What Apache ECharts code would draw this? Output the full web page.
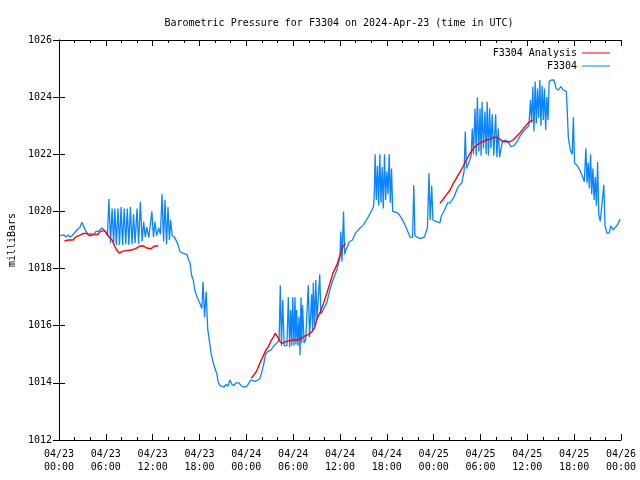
<!DOCTYPE html>
<html>
<head>
<meta charset="utf-8">
<script src="https://cdn.jsdelivr.net/npm/echarts@6/dist/echarts.min.js"></script>
<style>html,body{margin:0;padding:0;background:#fff}#c{width:640px;height:480px}</style>
</head>
<body>
<div id="c"></div>
<script>
// hours since 2024-04-23 00:00 UTC
const xTickLabels = ['04/23\n00:00','04/23\n06:00','04/23\n12:00','04/23\n18:00','04/24\n00:00','04/24\n06:00','04/24\n12:00','04/24\n18:00','04/25\n00:00','04/25\n06:00','04/25\n12:00','04/25\n18:00','04/26\n00:00'];
const seriesNames = ['F3304 Analysis', 'F3304'];

const analysisSeg1 = [[0.68,1018.96],[1.2,1019.0],[1.8,1019.0],[2.1,1019.1],[2.7,1019.17],[3.1,1019.23],[3.6,1019.23],[3.9,1019.15],[4.4,1019.18],[5.0,1019.2],[5.3,1019.3],[5.8,1019.33],[6.1,1019.25],[6.4,1019.1],[6.8,1019.0],[7.1,1018.8],[7.4,1018.65],[7.7,1018.54],[8.1,1018.6],[8.6,1018.63],[9.3,1018.65],[9.8,1018.7],[10.3,1018.78],[10.8,1018.8],[11.2,1018.72],[11.8,1018.7],[12.2,1018.78],[12.7,1018.8]];
const analysisSeg2 = [[24.65,1014.16],[25.3,1014.4],[25.75,1014.7],[26.1,1014.9],[26.4,1015.09],[26.8,1015.26],[27.1,1015.44],[27.5,1015.62],[27.7,1015.73],[28.0,1015.62],[28.3,1015.45],[28.6,1015.38],[29.0,1015.44],[29.5,1015.47],[30.0,1015.5],[30.6,1015.5],[31.0,1015.55],[31.5,1015.64],[31.9,1015.68],[32.4,1015.79],[32.8,1015.96],[33.0,1016.2],[33.4,1016.44],[33.9,1016.79],[34.3,1017.13],[34.7,1017.48],[35.1,1017.84],[35.6,1018.13],[36.0,1018.47],[36.4,1018.77],[36.7,1018.88]];
const analysisSeg3 = [[48.8,1020.28],[49.6,1020.57],[50.1,1020.75],[50.5,1020.98],[50.9,1021.16],[51.4,1021.39],[51.8,1021.59],[52.2,1021.8],[52.6,1022.01],[53.1,1022.21],[53.5,1022.32],[53.9,1022.38],[54.3,1022.44],[54.8,1022.5],[55.2,1022.52],[55.6,1022.59],[56.1,1022.6],[56.5,1022.52],[56.9,1022.44],[57.8,1022.44],[58.2,1022.5],[58.6,1022.62],[59.0,1022.73],[59.5,1022.9],[59.9,1023.03],[60.3,1023.14],[60.7,1023.2]];

const observed = [[0.13,1019.15],[0.38,1019.1],[0.64,1019.18],[0.9,1019.1],[1.15,1019.18],[1.41,1019.1],[1.67,1019.15],[1.92,1019.22],[2.31,1019.35],[2.69,1019.45],[2.95,1019.62],[3.2,1019.45],[3.46,1019.3],[3.72,1019.2],[4.1,1019.22],[4.48,1019.2],[4.74,1019.3],[5.0,1019.3],[5.25,1019.3],[5.55,1019.42],[5.9,1019.3],[6.2,1019.15],
[6.4,1020.43],[6.6,1018.9],[6.8,1020.1],[7.0,1018.85],[7.15,1020.1],[7.35,1018.83],[7.55,1020.1],[7.75,1018.83],[7.95,1020.15],[8.15,1018.83],[8.35,1020.1],[8.55,1018.85],[8.75,1020.1],[8.95,1018.83],[9.15,1020.15],[9.35,1018.85],[9.55,1019.9],[9.75,1018.9],[10.0,1020.1],[10.2,1018.85],[10.42,1020.34],[10.65,1018.95],[10.85,1019.64],[11.05,1019.1],[11.25,1019.45],[11.5,1019.08],[11.9,1020.0],[12.1,1019.1],[12.3,1019.64],[12.5,1019.15],[12.77,1019.41],[13.0,1019.2],[13.2,1020.6],[13.4,1018.95],[13.58,1020.4],[13.78,1018.85],[13.96,1020.15],[14.15,1019.0],[14.3,1019.7],[14.5,1019.15],[14.8,1019.1],[15.16,1018.9],[15.5,1018.6],[15.9,1018.53],[16.4,1018.5],[16.6,1018.3],[16.8,1018.2],[16.9,1017.95],[17.0,1017.75],[17.2,1017.6],[17.4,1017.25],[17.7,1017.0],[18.1,1016.75],[18.3,1016.6],[18.45,1017.54],[18.65,1016.3],[18.85,1017.2],[19.05,1015.9],[19.2,1015.6],[19.47,1015.05],[19.73,1014.73],[19.98,1014.5],[20.24,1014.3],[20.37,1014.05],[20.62,1013.9],[20.88,1013.88],[21.14,1013.85],[21.39,1013.95],[21.65,1013.88],[21.91,1014.1],[22.16,1013.95],[22.42,1013.9],[22.67,1014.0],[23.06,1014.0],[23.32,1013.9],[23.7,1013.85],[24.08,1013.88],[24.34,1014.0],[24.6,1014.1],[24.85,1014.15],[25.1,1014.05],[25.49,1014.1],[25.75,1014.15],[26.0,1014.4],[26.26,1014.7],[26.45,1015.0],[26.77,1015.1],[27.16,1015.15],[27.54,1015.3],[27.93,1015.4],[28.2,1015.5],
[28.35,1017.42],[28.5,1015.3],[28.66,1016.9],[28.85,1015.3],[29.0,1015.25],[29.2,1015.3],[29.38,1017.0],[29.55,1015.25],[29.68,1016.55],[29.82,1015.3],[29.94,1017.0],[30.1,1015.3],[30.23,1017.0],[30.35,1015.35],[30.45,1016.55],[30.6,1015.3],[30.75,1016.31],[30.88,1014.97],[31.0,1017.0],[31.1,1015.4],[31.2,1016.72],[31.4,1015.4],[31.6,1015.5],[31.94,1017.42],[32.1,1015.6],[32.37,1017.1],[32.5,1015.8],[32.58,1017.5],[32.75,1016.0],[32.9,1017.6],[33.05,1016.2],[33.4,1017.8],[33.55,1016.4],[33.8,1016.45],[34.3,1016.8],[34.7,1017.25],[35.1,1017.6],[35.6,1017.95],[36.0,1018.4],[36.1,1019.3],[36.25,1018.25],[36.45,1020.0],[36.6,1018.5],[36.75,1018.65],[37.2,1018.94],[37.6,1019.0],[38.0,1019.25],[38.5,1019.4],[39.0,1019.53],[39.4,1019.7],[39.8,1019.9],[40.1,1020.05],[40.3,1020.17],[40.4,1020.69],
[40.5,1022.0],[40.65,1020.4],[40.8,1021.6],[40.95,1020.2],[41.1,1022.0],[41.25,1020.3],[41.4,1021.55],[41.55,1020.1],[41.7,1022.0],[41.85,1020.4],[42.0,1021.4],[42.15,1020.6],[42.3,1022.0],[42.45,1020.3],[42.6,1021.5],[42.75,1020.0],[43.0,1020.0],[43.4,1019.95],[43.8,1019.8],[44.2,1019.6],[44.6,1019.35],[45.0,1019.1],[45.3,1019.09],[45.45,1020.92],[45.6,1019.15],[45.9,1019.1],[46.3,1019.05],[46.8,1019.1],[47.2,1019.42],[47.4,1021.34],[47.55,1019.7],[47.75,1020.9],[47.9,1019.7],[48.3,1019.65],[48.8,1019.6],[49.0,1019.85],[49.4,1020.05],[49.8,1020.3],[50.1,1020.3],[50.6,1020.5],[51.1,1020.85],[51.6,1021.0],[51.9,1021.4],[52.05,1022.8],[52.2,1021.5],[52.5,1021.7],[52.8,1021.95],
[52.95,1022.9],[53.1,1022.0],[53.3,1023.6],[53.45,1021.95],[53.6,1024.0],[53.78,1022.1],[53.94,1023.6],[54.08,1021.95],[54.2,1023.84],[54.38,1022.2],[54.57,1023.5],[54.72,1022.0],[54.86,1023.84],[55.02,1021.95],[55.17,1023.6],[55.33,1022.2],[55.5,1023.4],[55.7,1021.95],[55.94,1023.4],[56.1,1021.9],[56.27,1022.9],[56.45,1021.9],[56.8,1022.45],[57.2,1022.5],[57.5,1022.45],[57.9,1022.27],[58.3,1022.3],[58.7,1022.45],[59.1,1022.65],[59.5,1022.8],[59.9,1022.92],[60.2,1023.0],
[60.4,1023.9],[60.55,1023.1],[60.7,1024.36],[60.85,1022.8],[61.0,1024.55],[61.15,1023.1],[61.3,1024.3],[61.45,1023.27],[61.6,1024.6],[61.75,1023.0],[61.9,1024.4],[62.05,1023.2],[62.2,1024.3],[62.35,1022.85],[62.5,1024.0],[62.65,1023.2],[62.8,1024.55],[63.1,1024.6],[63.4,1024.6],[63.7,1024.3],[64.0,1024.25],[64.3,1024.37],[64.6,1024.25],[65.0,1024.2],[65.1,1023.6],[65.25,1022.6],[65.5,1022.15],[65.75,1022.0],[65.9,1023.3],[66.05,1021.7],[66.4,1021.6],[66.8,1021.4],[67.1,1021.2],[67.3,1021.04],
[67.5,1022.2],[67.65,1021.0],[67.8,1021.7],[67.95,1020.8],[68.1,1022.0],[68.25,1020.6],[68.4,1021.5],[68.55,1020.4],[68.7,1021.2],[68.85,1020.2],[69.0,1021.73],[69.15,1019.9],[69.35,1019.65],[69.55,1019.63],[69.8,1020.93],[69.95,1019.5],[70.2,1019.24],[70.5,1019.24],[70.7,1019.5],[71.0,1019.35],[71.3,1019.45],[71.6,1019.55],[71.9,1019.73]];

const analysis = analysisSeg1.concat([[12.9, null]], analysisSeg2, [[36.9, null]], analysisSeg3);

const FONT = 'DejaVu Sans Mono';
const RED = '#ff0000';
const BLUE = '#0a84ff';

const chart = echarts.init(document.getElementById('c'), null, {renderer: 'canvas'});
const xBase = {
  type: 'value', min: 0, max: 72, interval: 6,
  axisLine: {show: true, lineStyle: {color: '#000', width: 1}},
  axisTick: {show: true, inside: true, length: 6, lineStyle: {color: '#000'}},
  minorTick: {show: true, splitNumber: 3, length: 3, lineStyle: {color: '#000'}},
  splitLine: {show: false}
};
const yBase = {
  type: 'value', min: 1012, max: 1026, interval: 2,
  axisLine: {show: true, lineStyle: {color: '#000', width: 1}},
  axisTick: {show: true, inside: true, length: 6, lineStyle: {color: '#000'}},
  splitLine: {show: false}
};
const legendBase = {
  orient: 'vertical', right: 25, align: 'right', icon: 'rect',
  itemWidth: 28, itemHeight: 1, itemGap: 0,
  textStyle: {fontFamily: FONT, fontSize: 10, color: '#000'}
};
chart.setOption({
  animation: false,
  backgroundColor: '#fff',
  title: {
    text: 'Barometric Pressure for F3304 on 2024-Apr-23 (time in UTC)',
    left: 334, top: 13, textAlign: 'center',
    textStyle: {fontFamily: FONT, fontSize: 10, fontWeight: 'normal', color: '#000'}
  },
  legend: [
    Object.assign({}, legendBase, {data: [seriesNames[0]], top: 43}),
    Object.assign({}, legendBase, {data: [seriesNames[1]], top: 56})
  ],
  grid: {left: 59, right: 19, top: 40, bottom: 40, containLabel: false, outerBoundsMode: 'none'},
  xAxis: [
    Object.assign({}, xBase, {position: 'bottom',
      axisLabel: {fontFamily: FONT, fontSize: 10, color: '#000', margin: 8, lineHeight: 13,
        formatter: v => xTickLabels[Math.round(v / 6)]}}),
    Object.assign({}, xBase, {position: 'top', axisLabel: {show: false}})
  ],
  yAxis: [
    Object.assign({}, yBase, {position: 'left', name: 'milliBars', nameLocation: 'middle', nameGap: 42,
      nameTextStyle: {fontFamily: FONT, fontSize: 10, color: '#000'},
      axisLabel: {fontFamily: FONT, fontSize: 10, color: '#000', margin: 7, formatter: v => String(v)}}),
    Object.assign({}, yBase, {position: 'right', axisLabel: {show: false}})
  ],
  series: [
    {name: seriesNames[0], type: 'line', data: analysis, connectNulls: false, symbol: 'none',
     lineStyle: {color: RED, width: 1.4}, itemStyle: {color: RED}, z: 3},
    {name: seriesNames[1], type: 'line', data: observed, symbol: 'none',
     lineStyle: {color: BLUE, width: 1.3}, itemStyle: {color: BLUE}, z: 2}
  ]
});
</script>
</body>
</html>
